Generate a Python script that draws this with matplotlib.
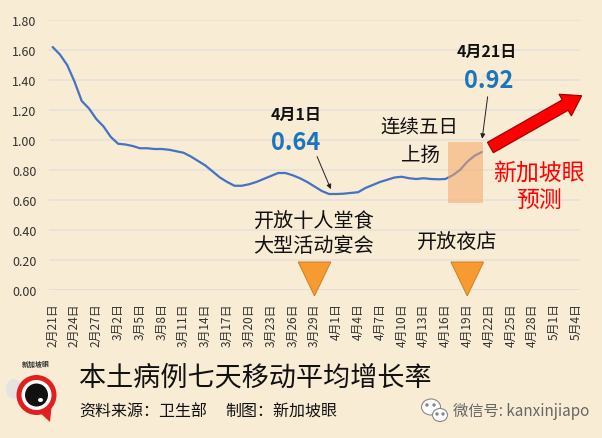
import matplotlib
matplotlib.use("Agg")
import matplotlib.pyplot as plt
from matplotlib.patches import Polygon, Rectangle, Circle, Ellipse, FancyArrow
import numpy as np

plt.rcParams['font.family'] = ['Noto Sans CJK SC', 'DejaVu Sans']

# ---------------- data ----------------
tick_labels = ["2月21日", "2月24日", "2月27日", "3月2日", "3月5日", "3月8日", "3月11日",
               "3月14日", "3月17日", "3月20日", "3月23日", "3月26日", "3月29日", "4月1日",
               "4月4日", "4月7日", "4月10日", "4月13日", "4月16日", "4月19日", "4月22日",
               "4月25日", "4月28日", "5月1日", "5月4日"]
n_days = 73  # 2月21日 .. 5月4日
growth_rate = [1.62, 1.57, 1.50, 1.39, 1.26, 1.21, 1.14, 1.09, 1.02, 0.975,
               0.97, 0.96, 0.945, 0.945, 0.94, 0.94, 0.935, 0.925, 0.915, 0.89,
               0.86, 0.83, 0.79, 0.75, 0.72, 0.695, 0.695, 0.705, 0.72, 0.74,
               0.76, 0.78, 0.78, 0.765, 0.745, 0.72, 0.69, 0.66, 0.64, 0.64,
               0.642, 0.647, 0.652, 0.68, 0.70, 0.72, 0.735, 0.75, 0.755, 0.745,
               0.74, 0.745, 0.74, 0.738, 0.74, 0.765, 0.80, 0.855, 0.895, 0.92]
yticks = [0.0, 0.2, 0.4, 0.6, 0.8, 1.0, 1.2, 1.4, 1.6, 1.8]
event_days = [36, 57]          # 3月29日, 4月19日
rise_span = (54.3, 59.1)       # 连续五日上扬
rise_band = (0.58, 0.985)

# ---------------- figure ----------------
W, H = 602, 439
bg = '#F8ECD4'
fig = plt.figure(figsize=(W / 100, H / 100), dpi=100, facecolor=bg)

def fx(px):
    return px / W

def fy(py):
    return 1 - py / H

ax_l, ax_r, ax_t, ax_b = 49, 580, 21, 291
ax = fig.add_axes([fx(ax_l), fy(ax_b), (ax_r - ax_l) / W, (ax_b - ax_t) / H])
ax.set_facecolor('none')

days = np.arange(len(growth_rate))
ax.plot(days, growth_rate, color='#4472C4', lw=1.6, zorder=3, solid_capstyle='round')

ax.set_xlim(-0.5, n_days - 0.5)
ax.set_ylim(0, 1.8)
ax.set_yticks(yticks)
ax.set_yticklabels([f"{v:.2f}" for v in yticks], fontsize=9, color='#333333')
ax.set_xticks(np.arange(0, n_days, 3))
ax.set_xticklabels(tick_labels, rotation=90, fontsize=8.6, color='#333333')
ax.tick_params(axis='both', length=0)
ax.tick_params(axis='y', pad=9)
ax.tick_params(axis='x', pad=9)
for s in ax.spines.values():
    s.set_visible(False)
ax.grid(axis='y', color='#E4E0DA', lw=1.1, zorder=0)
ax.axhline(0, color='#DDD8D0', lw=1.1, zorder=1)

# shaded rise box
ax.add_patch(Rectangle((rise_span[0], rise_band[0]), rise_span[1] - rise_span[0],
                       rise_band[1] - rise_band[0], facecolor='#F6A868', alpha=0.55,
                       edgecolor='none', zorder=4))

# event triangles
for d in event_days:
    tri = Polygon([[d - 2.25, 0.187], [d + 2.25, 0.187], [d, -0.04]], closed=True,
                  facecolor='#F79A32', edgecolor='#C87818', lw=0.6, zorder=5, clip_on=False)
    ax.add_patch(tri)

# ---------------- overlay (pixel coords) ----------------
ov = fig.add_axes([0, 0, 1, 1], facecolor='none')
ov.set_xlim(0, W)
ov.set_ylim(H, 0)
ov.axis('off')

blue = '#1C75BC'
ov.text(296, 115, "4月1日", fontsize=11.5, fontweight='bold', ha='center', va='center', color='#111111')
ov.text(296, 143, "0.64", fontsize=17, fontweight='bold', ha='center', va='center', color=blue)
ov.annotate('', xy=(38.4, 0.655), xycoords=ax.transData, xytext=(316, 155), textcoords='data',
            arrowprops=dict(arrowstyle='-|>', color='#222222', lw=0.7, mutation_scale=7))

ov.text(487, 52, "4月21日", fontsize=11.5, fontweight='bold', ha='center', va='center', color='#111111')
ov.text(489, 81, "0.92", fontsize=17, fontweight='bold', ha='center', va='center', color=blue)
ov.annotate('', xy=(59, 0.99), xycoords=ax.transData, xytext=(488, 95), textcoords='data',
            arrowprops=dict(arrowstyle='-|>', color='#222222', lw=0.7, mutation_scale=7))

ov.text(419, 127, "连续五日", fontsize=14, ha='center', va='center', color='#111111')
ov.text(420, 155, "上扬", fontsize=14, ha='center', va='center', color='#111111')

ov.text(539, 173, "新加坡眼", fontsize=16.5, ha='center', va='center', color='#FF0000')
ov.text(539, 200, "预测", fontsize=16.5, ha='center', va='center', color='#FF0000')

ov.add_patch(FancyArrow(490.4, 148.5, 91.3, -51.8, width=12, head_width=25, head_length=19,
                        length_includes_head=True, facecolor='#FF0000', edgecolor='#9A0000', lw=0.8))

ov.text(314, 222, "开放十人堂食", fontsize=14.5, ha='center', va='center', color='#111111')
ov.text(314, 247, "大型活动宴会", fontsize=14.5, ha='center', va='center', color='#111111')
ov.text(457, 243, "开放夜店", fontsize=14.5, ha='center', va='center', color='#111111')

# bottom title area
ov.text(79, 378, "本土病例七天移动平均增长率", fontsize=19.5, ha='left', va='center', color='#111111')
ov.text(79, 412, "资料来源：卫生部", fontsize=11.5, ha='left', va='center', color='#111111')
ov.text(225, 412, "制图：新加坡眼", fontsize=11.5, ha='left', va='center', color='#111111')
ov.text(453, 412, "微信号: kanxinjiapo", fontsize=11, ha='left', va='center', color='#666666')

# wechat icon
ov.add_patch(Ellipse((431, 408), 19, 16, facecolor='white', edgecolor='#888888', lw=0.8))
ov.add_patch(Ellipse((440, 416), 15, 13, facecolor='white', edgecolor='#888888', lw=0.8))
for cx, cy in [(427, 406), (434, 406), (437, 415), (443, 415)]:
    ov.add_patch(Circle((cx, cy), 1.0, color='#888888'))

# logo
ov.add_patch(Ellipse((14, 390), 16, 20, facecolor='#D8DEE8', edgecolor='none', alpha=0.6))
ov.add_patch(Polygon([[38, 412], [52, 404], [50, 423]], closed=True, facecolor='#E02020', edgecolor='none'))
ov.add_patch(Circle((36.5, 396), 20, facecolor='#E02020', edgecolor='none'))
ov.add_patch(Circle((36.5, 396), 15, facecolor='white', edgecolor='none'))
ov.add_patch(Circle((36.5, 396), 11.5, facecolor='#111111', edgecolor='none'))
ov.add_patch(Ellipse((40.5, 401), 5, 4, facecolor='white', edgecolor='none'))
ov.text(36, 364, "新加坡眼", fontsize=5, ha='center', va='center', color='#333333', fontweight='bold')

fig.savefig('out.png', dpi=100, facecolor=bg)
